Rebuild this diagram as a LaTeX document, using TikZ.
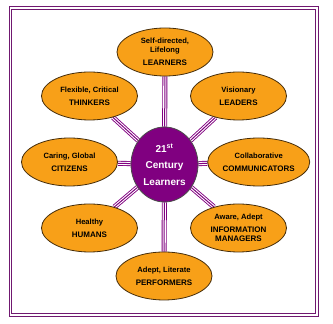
\documentclass[tikz,border=0pt]{standalone}
\usepackage{fontspec}
\setmainfont{Liberation Sans}
\usetikzlibrary{shapes.geometric,backgrounds}

\definecolor{framepurple}{RGB}{112,24,112}
\definecolor{hubpurple}{RGB}{128,0,128}
\definecolor{petalorange}{RGB}{248,160,24}
\definecolor{petaledge}{RGB}{70,45,10}

\newcommand{\capsline}[1]{{\fontsize{8}{9.5}\selectfont #1}}

\tikzset{
  petal/.style={ellipse, draw=petaledge, line width=0.8pt, fill=petalorange,
    minimum width=96pt, minimum height=48pt, inner sep=0pt, align=center,
    font=\fontsize{7.6}{9.5}\selectfont\bfseries},
  hub/.style={ellipse, draw=black!70, line width=0.8pt, fill=hubpurple,
    minimum width=67pt, minimum height=75pt, inner sep=0pt, align=center,
    text=white, font=\fontsize{10}{16.5}\selectfont\bfseries},
  spoke outer/.style={draw=hubpurple, line width=5pt},
  spoke gap/.style={draw=white, line width=3.2pt},
  spoke core/.style={draw=hubpurple, line width=1pt}
}

\begin{document}
\begin{tikzpicture}[x=1pt,y=1pt]
    \useasboundingbox (0,0) rectangle (333,324);

    % Draw the double frame
    \draw[framepurple, line width=1pt] (9,7.3) rectangle (318.5,317.5);
    \draw[framepurple, line width=1pt] (11.8,10.5) rectangle (315.5,314.7);

    % Draw the centre ellipse
    \node[hub] (hub) at (164.5,159.5) {21\textsuperscript{st}\\Century\\Learners};

    % Draw the outer ellipses
    \node[petal] (learners) at (165,272) {Self-directed,\\Lifelong\\[3.5pt]\capsline{LEARNERS}};
    \node[petal] (thinkers) at (89.5,228) {Flexible, Critical\\[3.5pt]\capsline{THINKERS}};
    \node[petal] (leaders) at (238.5,228) {Visionary\\[3.5pt]\capsline{LEADERS}};
    \node[petal] (citizens) at (69.5,162) {Caring, Global\\[3.5pt]\capsline{CITIZENS}};
    \node[petal] (communicators) at (258.7,162) {Collaborative\\[3.5pt]\capsline{COMMUNICATORS}};
    \node[petal] (humans) at (89.5,96) {Healthy\\[3.5pt]\capsline{HUMANS}};
    \node[petal] (managers) at (238.5,96) {Aware, Adept\\[3.5pt]\capsline{INFORMATION}\\\capsline{MANAGERS}};
    \node[petal] (performers) at (164,48) {Adept, Literate\\[3.5pt]\capsline{PERFORMERS}};

    % Triple-line spokes behind the ellipses
    \begin{pgfonlayer}{background}
    \foreach \p in {learners,thinkers,leaders,citizens,communicators,humans,managers,performers} {
        \draw[spoke outer] (hub) -- (\p);
        \draw[spoke gap] (hub) -- (\p);
        \draw[spoke core] (hub) -- (\p);
    }
    \end{pgfonlayer}

\end{tikzpicture}
\end{document}
